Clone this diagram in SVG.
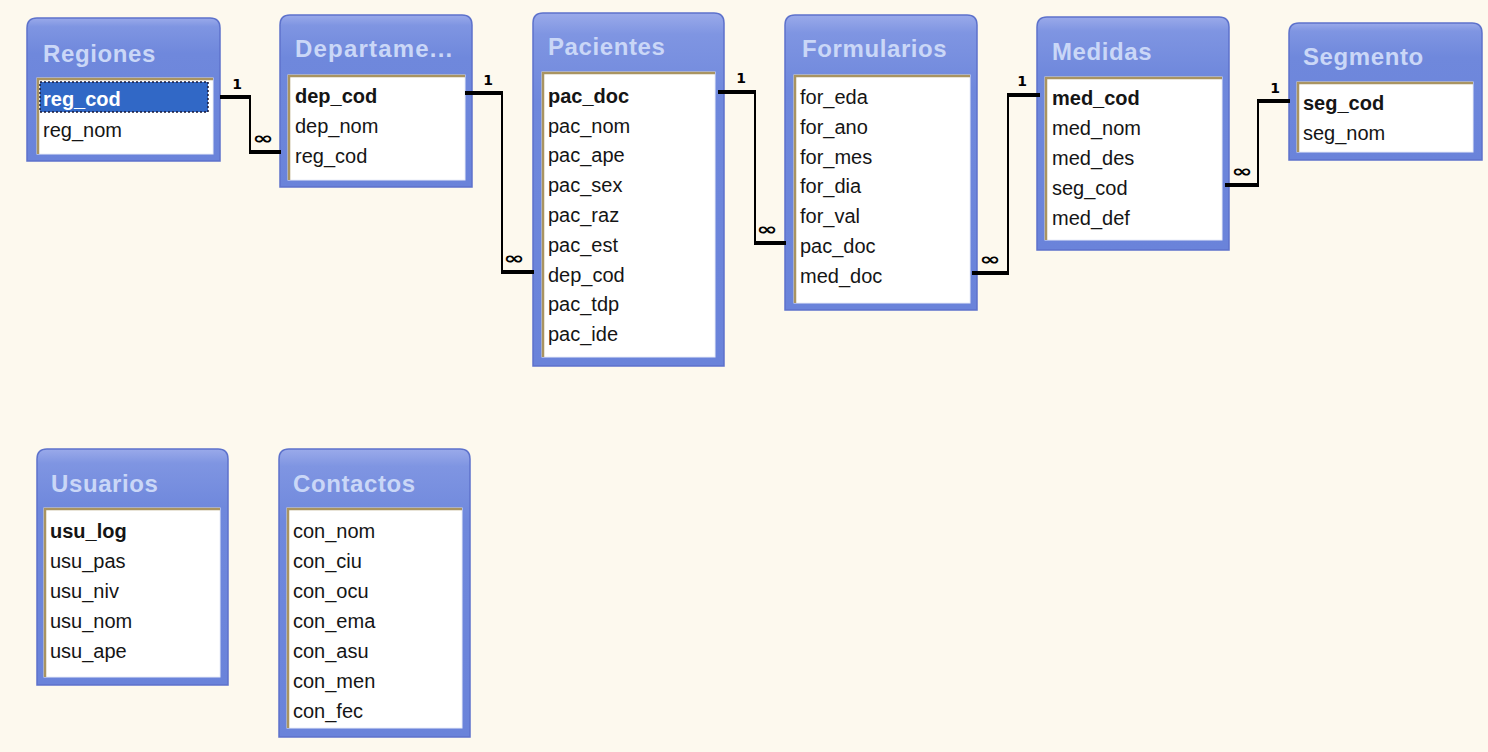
<svg xmlns="http://www.w3.org/2000/svg" width="1488" height="752" viewBox="0 0 1488 752">
<defs>
<linearGradient id="hdr" x1="0" y1="0" x2="0" y2="1">
<stop offset="0" stop-color="#9aaaea"/>
<stop offset="0.06" stop-color="#7f95e2"/>
<stop offset="0.25" stop-color="#6f88dc"/>
<stop offset="1" stop-color="#6a83da"/>
</linearGradient>
<style>
.box{fill:url(#hdr);stroke:#5d72cc;stroke-width:1.5}
.list{fill:#ffffff;stroke:#e8ecf8;stroke-width:1}
.sunk{fill:none;stroke:#a99461;stroke-width:2.5}
.title{font-family:"Liberation Sans",Arial,sans-serif;font-weight:bold;font-size:24px;fill:#cad7f7;letter-spacing:0.6px}
.f{font-family:"Liberation Sans",Arial,sans-serif;font-size:20px;fill:#151515}
.k{font-weight:bold}
.thick{stroke:#000;stroke-width:4;fill:none}
.thin{stroke:#000;stroke-width:2;fill:none}
.one{font-family:"DejaVu Sans",sans-serif;font-weight:bold;font-size:14px;fill:#000;text-anchor:middle}
.many{font-family:"DejaVu Sans",sans-serif;font-weight:bold;font-size:17px;fill:#000;text-anchor:middle}
</style>
</defs>
<rect width="1488" height="752" fill="#fdf9ee"/>

<g id="Regiones">
<path class="box" d="M27,161 V28 Q27,18 37,18 H210 Q220,18 220,28 V161 Z"/>
<rect class="list" x="37" y="78" width="176" height="76"/>
<path class="sunk" d="M38,154 V79 H213"/>
<text class="title" x="43" y="62">Regiones</text>
<rect x="40" y="82" width="168" height="30" fill="#3168c6" stroke="#1a1a3a" stroke-width="1.5" stroke-dasharray="2,2"/>
<text class="f k" x="43" y="106" style="fill:#ffffff">reg_cod</text>
<text class="f" x="43" y="137">reg_nom</text>
</g>

<g id="Departamentos">
<path class="box" d="M280,187 V25 Q280,15 290,15 H462 Q472,15 472,25 V187 Z"/>
<rect class="list" x="288" y="75" width="177" height="105"/>
<path class="sunk" d="M289,180 V76 H465"/>
<text class="title" x="295" y="57" style="letter-spacing:1.2px">Departame...</text>
<text class="f k" x="295" y="103">dep_cod</text>
<text class="f" x="295" y="133">dep_nom</text>
<text class="f" x="295" y="163">reg_cod</text>
</g>

<g id="Pacientes">
<path class="box" d="M533,366 V23 Q533,13 543,13 H714 Q724,13 724,23 V366 Z"/>
<rect class="list" x="542" y="72" width="173" height="285"/>
<path class="sunk" d="M543,357 V73 H715"/>
<text class="title" x="548" y="55">Pacientes</text>
<text class="f k" x="548" y="103">pac_doc</text>
<text class="f" x="548" y="133">pac_nom</text>
<text class="f" x="548" y="162">pac_ape</text>
<text class="f" x="548" y="192">pac_sex</text>
<text class="f" x="548" y="222">pac_raz</text>
<text class="f" x="548" y="252">pac_est</text>
<text class="f" x="548" y="282">dep_cod</text>
<text class="f" x="548" y="311">pac_tdp</text>
<text class="f" x="548" y="341">pac_ide</text>
</g>

<g id="Formularios">
<path class="box" d="M785,310 V25 Q785,15 795,15 H967 Q977,15 977,25 V310 Z"/>
<rect class="list" x="794" y="75" width="176" height="228"/>
<path class="sunk" d="M795,303 V76 H970"/>
<text class="title" x="802" y="57">Formularios</text>
<text class="f" x="800" y="104">for_eda</text>
<text class="f" x="800" y="134">for_ano</text>
<text class="f" x="800" y="164">for_mes</text>
<text class="f" x="800" y="193">for_dia</text>
<text class="f" x="800" y="223">for_val</text>
<text class="f" x="800" y="253">pac_doc</text>
<text class="f" x="800" y="283">med_doc</text>
</g>

<g id="Medidas">
<path class="box" d="M1037,250 V27 Q1037,17 1047,17 H1219 Q1229,17 1229,27 V250 Z"/>
<rect class="list" x="1045" y="77" width="177" height="163"/>
<path class="sunk" d="M1046,240 V78 H1222"/>
<text class="title" x="1052" y="60">Medidas</text>
<text class="f k" x="1052" y="105">med_cod</text>
<text class="f" x="1052" y="135">med_nom</text>
<text class="f" x="1052" y="165">med_des</text>
<text class="f" x="1052" y="195">seg_cod</text>
<text class="f" x="1052" y="225">med_def</text>
</g>

<g id="Segmento">
<path class="box" d="M1289,160 V33 Q1289,23 1299,23 H1472 Q1482,23 1482,33 V160 Z"/>
<rect class="list" x="1297" y="82" width="176" height="70"/>
<path class="sunk" d="M1298,152 V83 H1473"/>
<text class="title" x="1303" y="65">Segmento</text>
<text class="f k" x="1303" y="110">seg_cod</text>
<text class="f" x="1303" y="140">seg_nom</text>
</g>

<g id="Usuarios">
<path class="box" d="M37,685 V459 Q37,449 47,449 H218 Q228,449 228,459 V685 Z"/>
<rect class="list" x="44" y="508" width="176" height="169"/>
<path class="sunk" d="M45,677 V509 H220"/>
<text class="title" x="51" y="492">Usuarios</text>
<text class="f k" x="50" y="538">usu_log</text>
<text class="f" x="50" y="568">usu_pas</text>
<text class="f" x="50" y="598">usu_niv</text>
<text class="f" x="50" y="628">usu_nom</text>
<text class="f" x="50" y="658">usu_ape</text>
</g>

<g id="Contactos">
<path class="box" d="M279,737 V459 Q279,449 289,449 H460 Q470,449 470,459 V737 Z"/>
<rect class="list" x="287" y="508" width="175" height="220"/>
<path class="sunk" d="M288,728 V509 H462"/>
<text class="title" x="293" y="492">Contactos</text>
<text class="f" x="293" y="538">con_nom</text>
<text class="f" x="293" y="568">con_ciu</text>
<text class="f" x="293" y="598">con_ocu</text>
<text class="f" x="293" y="628">con_ema</text>
<text class="f" x="293" y="658">con_asu</text>
<text class="f" x="293" y="688">con_men</text>
<text class="f" x="293" y="718">con_fec</text>
</g>

<g id="connectors">
<path class="thick" d="M220,97 H251"/>
<path class="thin" d="M250,97 V152"/>
<path class="thick" d="M249,152 H281"/>
<text class="one" x="237" y="89">1</text>
<text class="many" transform="translate(263,144) scale(1.5,1)">∞</text>

<path class="thick" d="M465,93 H503"/>
<path class="thin" d="M502,93 V272"/>
<path class="thick" d="M501,272 H534"/>
<text class="one" x="488" y="85">1</text>
<text class="many" transform="translate(514,264) scale(1.5,1)">∞</text>

<path class="thick" d="M718,92 H756"/>
<path class="thin" d="M755,92 V243"/>
<path class="thick" d="M754,243 H786"/>
<text class="one" x="741" y="83">1</text>
<text class="many" transform="translate(767,235) scale(1.5,1)">∞</text>

<path class="thick" d="M972,273 H1009"/>
<path class="thin" d="M1008,95 V273"/>
<path class="thick" d="M1007,95 H1040"/>
<text class="one" x="1022" y="86">1</text>
<text class="many" transform="translate(990,265) scale(1.5,1)">∞</text>

<path class="thick" d="M1225,185 H1259"/>
<path class="thin" d="M1258,101 V185"/>
<path class="thick" d="M1257,101 H1290"/>
<text class="one" x="1275" y="93">1</text>
<text class="many" transform="translate(1242,177) scale(1.5,1)">∞</text>
</g>
</svg>
